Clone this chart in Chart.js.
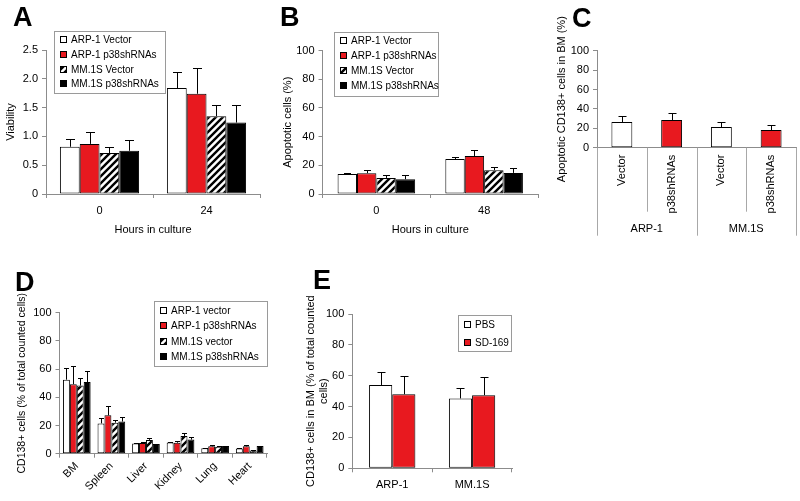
<!DOCTYPE html>
<html>
<head>
<meta charset="utf-8">
<script src="https://cdn.jsdelivr.net/npm/chart.js@4.4.0/dist/chart.umd.min.js"></script>
<style>
  body { margin: 0; background: #fff; }
  #page { position: relative; width: 800px; height: 501px; overflow: hidden; font-family: "Liberation Sans", Arial, sans-serif; }
  #page canvas { position: absolute; }
  .tag { position: absolute; font-weight: bold; font-size: 27px; line-height: 1; color: #000; }
</style>
</head>
<body>
<div id="page">
  <canvas id="chartA"></canvas>
  <canvas id="chartB"></canvas>
  <canvas id="chartC"></canvas>
  <canvas id="chartD"></canvas>
  <canvas id="chartE"></canvas>
  <div class="tag" style="left:13px;top:4px">A</div>
  <div class="tag" style="left:280px;top:4px">B</div>
  <div class="tag" style="left:572px;top:5px">C</div>
  <div class="tag" style="left:15px;top:269px">D</div>
  <div class="tag" style="left:313px;top:267px">E</div>
</div>
<script>
// ---- data ----
var seriesNames = ["ARP-1 Vector", "ARP-1 p38shRNAs", "MM.1S Vector", "MM.1S p38shRNAs"];
var seriesNamesD = ["ARP-1 vector", "ARP-1 p38shRNAs", "MM.1S vector", "MM.1S p38shRNAs"];

// A: viability
var hoursA = ["0", "24"];
var viabArpVec = [0.82, 1.84], viabArpVecErr = [0.14, 0.28];
var viabArpSh = [0.87, 1.74], viabArpShErr = [0.21, 0.44];
var viabMmVec = [0.71, 1.35], viabMmVecErr = [0.11, 0.19];
var viabMmSh = [0.75, 1.24], viabMmShErr = [0.18, 0.31];

// B: apoptotic cells (%)
var hoursB = ["0", "48"];
var apoArpVec = [14, 24.4], apoArpVecErr = [0.7, 1.4];
var apoArpSh = [14.5, 26.5], apoArpShErr = [2.4, 3.9];
var apoMmVec = [11.2, 16.6], apoMmVecErr = [2, 2.5];
var apoMmSh = [10.3, 14.7], apoMmShErr = [3, 3.2];

// C: apoptotic CD138+ cells in BM
var bmLabels = ["Vector", "p38shRNAs", "Vector", "p38shRNAs"];
var bmGroups = ["ARP-1", "MM.1S"];
var bmApo = [26.5, 28.5, 21.3, 18.2], bmApoErr = [6.2, 6.9, 5.2, 5.2];

// D: CD138+ cells per organ
var organs = ["BM", "Spleen", "Liver", "Kidney", "Lung", "Heart"];
var orgArpVec = [52.5, 21.5, 7.3, 8, 3.8, 3.6], orgArpVecErr = [8.5, 3.8, 0.3, 0.4, 0.4, 0.4];
var orgArpSh = [49.3, 27.2, 7.6, 7.8, 5.2, 5.2], orgArpShErr = [12.6, 6.5, 1, 1, 1, 1];
var orgMmVec = [48.3, 22, 9.8, 12.6, 5, 2.2], orgMmVecErr = [5.5, 2, 1.5, 2, 0.3, 0.3];
var orgMmSh = [50.8, 22.8, 6.8, 10, 5.4, 5.4], orgMmShErr = [7.6, 3.5, 0.3, 1.8, 0.3, 0.3];

// E: SD-169 treatment
var cellLines = ["ARP-1", "MM.1S"];
var pbs = [54, 45.3], pbsErr = [8.2, 6.5];
var sd169 = [48, 47.4], sd169Err = [12, 11.8];

// ---- styles ----
Chart.defaults.font.family = '"Liberation Sans", Arial, sans-serif';
Chart.defaults.color = "#000";
var axisGray = "#8c8c8c";
var red = "#e8191f";

function hatch() {
  var s = 7;
  var c = document.createElement("canvas");
  c.width = s; c.height = s;
  var x = c.getContext("2d");
  x.fillStyle = "#fff";
  x.fillRect(0, 0, s, s);
  x.strokeStyle = "#000";
  x.lineWidth = 2.4;
  x.beginPath();
  x.moveTo(-1, 1); x.lineTo(1, -1);
  x.moveTo(0, s); x.lineTo(s, 0);
  x.moveTo(s - 1, s + 1); x.lineTo(s + 1, s - 1);
  x.stroke();
  return x.createPattern(c, "repeat");
}
var hatchFill = hatch();
var fills = ["#fff", red, hatchFill, "#000"];

// error bars drawn from each bar's top through the y scale
var errorBars = {
  id: "errorBars",
  afterDatasetsDraw: function(chart, args, opts) {
    var ctx = chart.ctx, y = chart.scales.y, cap = opts.cap || 4;
    ctx.save();
    ctx.strokeStyle = "#000";
    ctx.lineWidth = 1;
    chart.data.datasets.forEach(function(ds, i) {
      if (!ds.errors) return;
      chart.getDatasetMeta(i).data.forEach(function(bar, j) {
        var top = y.getPixelForValue(ds.data[j] + ds.errors[j]);
        var bx = Math.round(bar.x) + 0.5;
        ctx.beginPath();
        ctx.moveTo(bx, bar.y);
        ctx.lineTo(bx, Math.round(top) + 0.5);
        ctx.moveTo(bx - cap, Math.round(top) + 0.5);
        ctx.lineTo(bx + cap, Math.round(top) + 0.5);
        ctx.stroke();
      });
    });
    ctx.restore();
  }
};

// legend inside a grey frame
var boxLegend = {
  id: "boxLegend",
  afterDraw: function(chart, args, o) {
    if (!o.box) return;
    var ctx = chart.ctx, b = o.box;
    ctx.save();
    ctx.fillStyle = "#fff";
    ctx.fillRect(b.x, b.y, b.w, b.h);
    ctx.strokeStyle = "#9a9a9a";
    ctx.lineWidth = 1;
    ctx.strokeRect(b.x + 0.5, b.y + 0.5, b.w, b.h);
    ctx.font = '10px "Liberation Sans", Arial, sans-serif';
    ctx.textBaseline = "middle";
    chart.data.datasets.forEach(function(ds, i) {
      var cy = Math.round(b.y + o.first + i * o.row);
      ctx.fillStyle = ds.backgroundColor;
      ctx.fillRect(b.x + 6, cy - 3, 7, 7);
      ctx.strokeStyle = "#000";
      ctx.strokeRect(b.x + 6.5, cy - 2.5, 6, 6);
      ctx.fillStyle = "#000";
      ctx.fillText(ds.label, b.x + 17, cy + 1);
    });
    ctx.restore();
  }
};

// two-level category axis for panel C
var groupAxis = {
  id: "groupAxis",
  afterDraw: function(chart, args, o) {
    if (!o.groups) return;
    var ctx = chart.ctx, x = chart.scales.x, n = x.ticks.length;
    var per = n / o.groups.length, bounds = [];
    for (var i = 0; i <= n; i++) {
      if (i === 0) bounds.push(x.left);
      else if (i === n) bounds.push(x.right);
      else bounds.push((x.getPixelForTick(i - 1) + x.getPixelForTick(i)) / 2);
    }
    ctx.save();
    ctx.strokeStyle = "#a8a8a8";
    ctx.lineWidth = 1;
    bounds.forEach(function(bx, i) {
      var px = Math.round(bx) + 0.5;
      ctx.beginPath();
      ctx.moveTo(px, x.top);
      ctx.lineTo(px, x.top + (i % per === 0 ? o.long : o.short));
      ctx.stroke();
    });
    ctx.fillStyle = "#000";
    ctx.font = '11px "Liberation Sans", Arial, sans-serif';
    ctx.textAlign = "center";
    ctx.textBaseline = "middle";
    o.groups.forEach(function(g, k) {
      ctx.fillText(g, (bounds[k * per] + bounds[(k + 1) * per]) / 2, x.top + o.labelY);
    });
    ctx.restore();
  }
};

Chart.register(errorBars, boxLegend, groupAxis);

function makeSets(names, values, errs) {
  return names.map(function(n, i) {
    return {
      label: n, data: values[i], errors: errs[i],
      backgroundColor: fills[i], borderColor: "#000", borderWidth: 1, borderSkipped: false
    };
  });
}

function build(id, box, area, labels, datasets, cfg) {
  var cv = document.getElementById(id);
  cv.width = box.w; cv.height = box.h;
  cv.style.left = box.l + "px";
  cv.style.top = box.t + "px";
  var yWidth = area.x0 - box.l, xHeight = box.t + box.h - area.y1;
  var legend = cfg.legend ? {
    box: { x: cfg.legend.x - box.l, y: cfg.legend.y - box.t, w: cfg.legend.w, h: cfg.legend.h },
    first: cfg.legend.first, row: cfg.legend.row
  } : {};
  var xTicks = Object.assign({ color: "#000", font: { size: 11 }, padding: 6, autoSkip: false, maxRotation: 0 }, cfg.xTicks || {});
  var xScale = {
    ticks: xTicks,
    grid: { drawOnChartArea: false, drawTicks: cfg.xTickMarks !== false, tickLength: 4, color: axisGray, offset: true },
    border: { color: axisGray },
    title: { display: !!cfg.xTitle, text: cfg.xTitle || "", font: { size: 11 } },
    afterFit: function(s) { s.height = xHeight; }
  };
  var yScale = {
    min: 0, max: cfg.yMax,
    ticks: { stepSize: cfg.yStep, color: "#000", font: { size: 11 }, padding: 4 },
    grid: { drawOnChartArea: false, tickLength: 4, color: axisGray },
    border: { color: axisGray },
    title: { display: true, text: cfg.yTitle, font: { size: cfg.yTitleSize || 11 }, padding: { top: 4, bottom: 4 } },
    afterFit: function(s) { s.width = yWidth; }
  };
  return new Chart(cv, {
    type: "bar",
    data: { labels: labels, datasets: datasets },
    options: {
      responsive: false,
      animation: false,
      layout: { padding: { top: area.y0 - box.t, right: box.l + box.w - area.x1, left: 0, bottom: 0 } },
      datasets: { bar: { categoryPercentage: cfg.catPct, barPercentage: 1 } },
      scales: { x: xScale, y: yScale },
      plugins: {
        legend: { display: false },
        tooltip: { enabled: false },
        errorBars: { cap: cfg.cap },
        boxLegend: legend,
        groupAxis: cfg.groupAxis || {}
      }
    }
  });
}

build("chartA", { l: 0, t: 25, w: 270, h: 216 }, { x0: 46, x1: 260, y0: 50, y1: 194 }, hoursA,
  makeSets(seriesNames,
    [viabArpVec, viabArpSh, viabMmVec, viabMmSh],
    [viabArpVecErr, viabArpShErr, viabMmVecErr, viabMmShErr]),
  { yMax: 2.5, yStep: 0.5, yTitle: "Viability", xTitle: "Hours in culture", catPct: 0.74, cap: 4.5,
    legend: { x: 54, y: 31, w: 111, h: 62, first: 8, row: 14.8 } });

build("chartB", { l: 277, t: 25, w: 265, h: 216 }, { x0: 322.5, x1: 538, y0: 50.5, y1: 194 }, hoursB,
  makeSets(seriesNames,
    [apoArpVec, apoArpSh, apoMmVec, apoMmSh],
    [apoArpVecErr, apoArpShErr, apoMmVecErr, apoMmShErr]),
  { yMax: 100, yStep: 20, yTitle: "Apoptotic cells (%)", xTitle: "Hours in culture", catPct: 0.72, cap: 3.5,
    legend: { x: 334, y: 32, w: 104, h: 64, first: 8, row: 15 } });

build("chartC", { l: 551, t: 0, w: 249, h: 245 }, { x0: 597, x1: 796, y0: 50.7, y1: 147.7 }, bmLabels,
  [{ label: "Apoptotic CD138+", data: bmApo, errors: bmApoErr,
     backgroundColor: ["#fff", red, "#fff", red], borderColor: "#000", borderWidth: 1, borderSkipped: false }],
  { yMax: 100, yStep: 20, yTitle: "Apoptotic CD138+ cells in BM (%)", catPct: 0.42, cap: 4,
    xTickMarks: false, xTicks: { minRotation: 90, maxRotation: 90, padding: 7 },
    groupAxis: { groups: bmGroups, long: 88, short: 64, labelY: 81 } });

build("chartD", { l: 12, t: 266, w: 258, h: 229 }, { x0: 59.5, x1: 267, y0: 312.7, y1: 453.7 }, organs,
  makeSets(seriesNamesD,
    [orgArpVec, orgArpSh, orgMmVec, orgMmSh],
    [orgArpVecErr, orgArpShErr, orgMmVecErr, orgMmShErr]),
  { yMax: 100, yStep: 20, yTitle: "CD138+ cells (% of total counted cells)", yTitleSize: 10.5, catPct: 0.8, cap: 2.5,
    xTicks: { minRotation: 45, maxRotation: 45, padding: 2 },
    legend: { x: 154, y: 301, w: 113, h: 65, first: 9, row: 15.3 } });

build("chartE", { l: 300, t: 280, w: 218, h: 215 }, { x0: 352.3, x1: 512, y0: 314, y1: 468.3 }, cellLines,
  makeSets(["PBS", "SD-169"], [pbs, sd169], [pbsErr, sd169Err]),
  { yMax: 100, yStep: 20, yTitle: ["CD138+ cells in BM (% of total counted", "cells)"], catPct: 0.58, cap: 4,
    legend: { x: 458, y: 315, w: 53, h: 36, first: 9.3, row: 17.4 } });
</script>
</body>
</html>
